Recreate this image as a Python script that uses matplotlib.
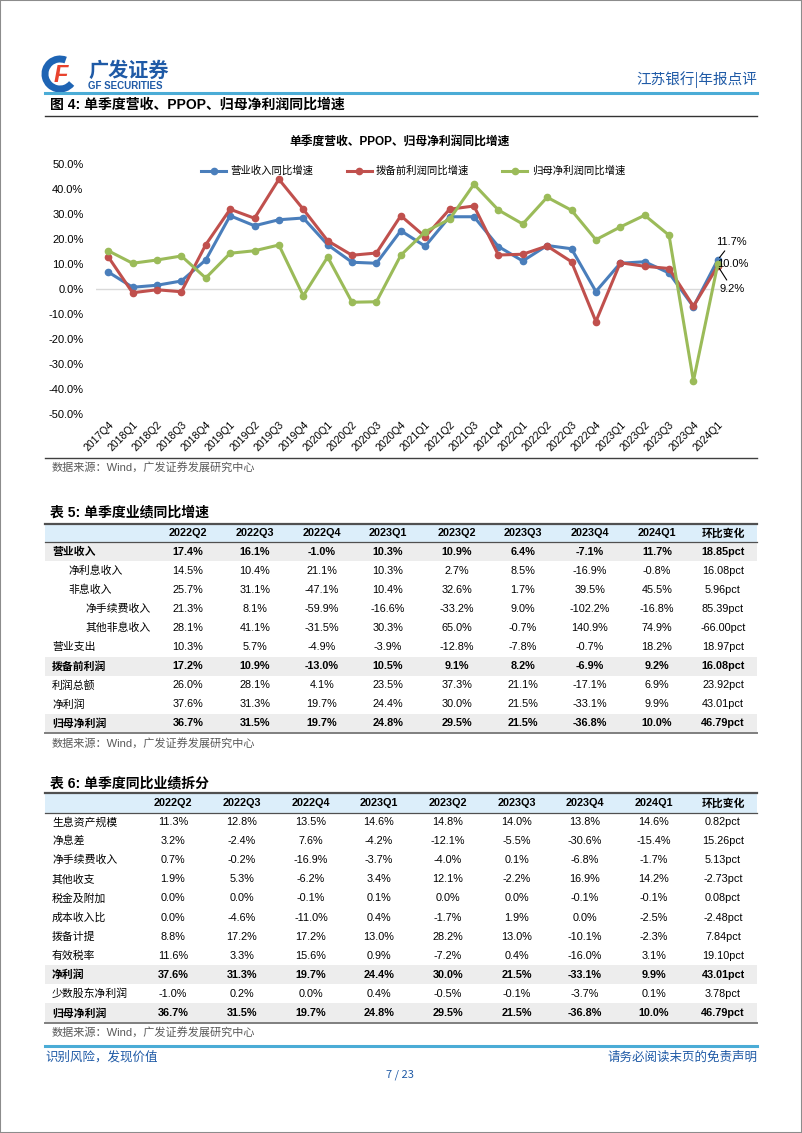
import matplotlib
matplotlib.use("Agg")
import matplotlib.pyplot as plt
from matplotlib.patches import Rectangle, Arc
from matplotlib.lines import Line2D

plt.rcParams['font.family'] = ['Liberation Sans', 'Noto Sans CJK SC', 'DejaVu Sans']

# ---------------- data ----------------
quarters = ['2017Q4', '2018Q1', '2018Q2', '2018Q3', '2018Q4', '2019Q1', '2019Q2', '2019Q3', '2019Q4',
            '2020Q1', '2020Q2', '2020Q3', '2020Q4', '2021Q1', '2021Q2', '2021Q3', '2021Q4',
            '2022Q1', '2022Q2', '2022Q3', '2022Q4', '2023Q1', '2023Q2', '2023Q3', '2023Q4', '2024Q1']
revenue_yoy = [6.8, 0.7, 1.5, 3.2, 11.6, 29.3, 25.3, 27.7, 28.4, 17.7, 10.7, 10.3, 23.3, 17.1,
               28.9, 28.9, 17.0, 11.2, 17.4, 16.1, -1.0, 10.3, 10.9, 6.4, -7.1, 11.7]
ppop_yoy = [12.9, -1.5, -0.3, -1.1, 17.7, 31.9, 28.3, 43.9, 31.9, 19.3, 13.5, 14.4, 29.3, 20.9,
            31.9, 33.2, 13.6, 13.9, 17.2, 10.9, -13.0, 10.5, 9.1, 8.2, -6.9, 9.2]
netprofit_yoy = [15.3, 10.3, 11.6, 13.2, 4.4, 14.3, 15.3, 17.6, -2.7, 12.8, -5.3, -5.1, 13.5, 22.9,
                 27.9, 41.9, 31.6, 26.0, 36.7, 31.5, 19.7, 24.8, 29.5, 21.5, -36.8, 10.0]
series_names = ['营业收入同比增速', '拨备前利润同比增速', '归母净利润同比增速']
yticks = [50, 40, 30, 20, 10, 0, -10, -20, -30, -40, -50]

table_cols = ['2022Q2', '2022Q3', '2022Q4', '2023Q1', '2023Q2', '2023Q3', '2023Q4', '2024Q1', '环比变化']

t5_labels = ['营业收入', '净利息收入', '非息收入', '净手续费收入', '其他非息收入', '营业支出',
             '拨备前利润', '利润总额', '净利润', '归母净利润']
t5_indent = [0, 1, 1, 2, 2, 0, 0, 0, 0, 0]
t5_bold = [True, False, False, False, False, False, True, False, False, True]
t5_values = [
    [17.4, 16.1, -1.0, 10.3, 10.9, 6.4, -7.1, 11.7, 18.85],
    [14.5, 10.4, 21.1, 10.3, 2.7, 8.5, -16.9, -0.8, 16.08],
    [25.7, 31.1, -47.1, 10.4, 32.6, 1.7, 39.5, 45.5, 5.96],
    [21.3, 8.1, -59.9, -16.6, -33.2, 9.0, -102.2, -16.8, 85.39],
    [28.1, 41.1, -31.5, 30.3, 65.0, -0.7, 140.9, 74.9, -66.00],
    [10.3, 5.7, -4.9, -3.9, -12.8, -7.8, -0.7, 18.2, 18.97],
    [17.2, 10.9, -13.0, 10.5, 9.1, 8.2, -6.9, 9.2, 16.08],
    [26.0, 28.1, 4.1, 23.5, 37.3, 21.1, -17.1, 6.9, 23.92],
    [37.6, 31.3, 19.7, 24.4, 30.0, 21.5, -33.1, 9.9, 43.01],
    [36.7, 31.5, 19.7, 24.8, 29.5, 21.5, -36.8, 10.0, 46.79],
]

t6_labels = ['生息资产规模', '净息差', '净手续费收入', '其他收支', '税金及附加', '成本收入比',
             '拨备计提', '有效税率', '净利润', '少数股东净利润', '归母净利润']
t6_bold = [False, False, False, False, False, False, False, False, True, False, True]
t6_values = [
    [11.3, 12.8, 13.5, 14.6, 14.8, 14.0, 13.8, 14.6, 0.82],
    [3.2, -2.4, 7.6, -4.2, -12.1, -5.5, -30.6, -15.4, 15.26],
    [0.7, -0.2, -16.9, -3.7, -4.0, 0.1, -6.8, -1.7, 5.13],
    [1.9, 5.3, -6.2, 3.4, 12.1, -2.2, 16.9, 14.2, -2.73],
    [0.0, 0.0, -0.1, 0.1, 0.0, 0.0, -0.1, -0.1, 0.08],
    [0.0, -4.6, -11.0, 0.4, -1.7, 1.9, 0.0, -2.5, -2.48],
    [8.8, 17.2, 17.2, 13.0, 28.2, 13.0, -10.1, -2.3, 7.84],
    [11.6, 3.3, 15.6, 0.9, -7.2, 0.4, -16.0, 3.1, 19.10],
    [37.6, 31.3, 19.7, 24.4, 30.0, 21.5, -33.1, 9.9, 43.01],
    [-1.0, 0.2, 0.0, 0.4, -0.5, -0.1, -3.7, 0.1, 3.78],
    [36.7, 31.5, 19.7, 24.8, 29.5, 21.5, -36.8, 10.0, 46.79],
]

# ---------------- figure ----------------
W, H = 802, 1133
fig = plt.figure(figsize=(W / 100, H / 100), dpi=100)


def fx(x):
    return x / W


def fy(y):
    return 1 - y / H


def ftext(x, y, s, **kw):
    fig.text(fx(x), fy(y), s, **kw)


def hline(y, x0, x1, color, lw):
    fig.add_artist(Line2D([fx(x0), fx(x1)], [fy(y), fy(y)], color=color, lw=lw))


def rect(x0, y0, x1, y1, color):
    fig.add_artist(Rectangle((fx(x0), fy(y1)), fx(x1) - fx(x0), fy(y0) - fy(y1),
                             facecolor=color, edgecolor='none', zorder=0))


# page border
fig.add_artist(Rectangle((0, 0), 1, 1, fill=False, edgecolor='#8c8c8c', lw=1.5))

# ---- header / logo ----
BLUE_T = '#1F5AA6'
fig.add_artist(Arc((fx(60), fy(74)), 30 / W, 30 / H, theta1=60, theta2=330,
                   color='#1E64B4', lw=5))
ftext(61, 75, 'F', fontsize=17, fontweight='bold', color='#E8432E', ha='center', va='center',
      style='italic')
ftext(88, 70, '广发证券', fontsize=14.5, fontweight='bold', color=BLUE_T, va='center',
      family=['Noto Sans CJK SC'])
ftext(88, 86, 'GF SECURITIES', fontsize=7, fontweight='bold', color=BLUE_T, va='center')
ftext(757, 80, '江苏银行|年报点评', fontsize=10.5, color=BLUE_T, ha='right', va='center',
      family=['Noto Sans CJK SC'])
hline(93, 45, 757, '#4BACD6', 2.2)
ftext(50, 105, '图 4: 单季度营收、PPOP、归母净利润同比增速', fontsize=10, fontweight='bold',
      va='center')
hline(116, 45, 757, '#333333', 1.0)

# ---- chart ----
ftext(400, 142, '单季度营收、PPOP、归母净利润同比增速', fontsize=8.5, fontweight='bold',
      ha='center', va='center')

ax = fig.add_axes([fx(96), fy(414), (730 - 96) / W, (414 - 164) / H])
colors = ['#4A7EBB', '#C0504D', '#9BBB59']
for vals, c, name in zip([revenue_yoy, ppop_yoy, netprofit_yoy], colors, series_names):
    ax.plot(quarters, vals, color=c, lw=2.2, marker='o', markersize=4.5, label=name,
            solid_joinstyle='round')
ax.axhline(0, color='#D9D9D9', lw=1, zorder=0)
ax.set_xlim(-0.5, len(quarters) - 0.5)
ax.set_ylim(-50, 50)
ax.set_yticks(yticks)
ax.set_yticklabels([f'{v:.1f}%' for v in yticks], fontsize=8)
ax.tick_params(axis='y', length=0, pad=9)
ax.tick_params(axis='x', length=0, pad=4)
for lab in ax.get_xticklabels():
    lab.set_rotation(45)
    lab.set_ha('right')
    lab.set_va('top')
    lab.set_rotation_mode('anchor')
    lab.set_fontsize(7.5)
for s in ax.spines.values():
    s.set_visible(False)
leg = ax.legend(loc='upper center', bbox_to_anchor=(0.5, 1.03), ncol=3, frameon=False,
                fontsize=7.5, handlelength=2.4, columnspacing=3.2, handletextpad=0.4,
                prop={'family': ['Noto Sans CJK SC'], 'size': 7.5})

last = len(quarters) - 1
ax.annotate(f'{revenue_yoy[-1]:.1f}%', xy=(last, revenue_yoy[-1]), xytext=(last + 0.57, 18.8),
            fontsize=8, ha='center', va='center', annotation_clip=False,
            arrowprops=dict(arrowstyle='-', color='black', lw=0.8, shrinkA=1, shrinkB=2))
ax.annotate(f'{netprofit_yoy[-1]:.1f}%', xy=(last, netprofit_yoy[-1]), xytext=(last + 0.6, 10.0),
            fontsize=8, ha='center', va='center', annotation_clip=False)
ax.annotate(f'{ppop_yoy[-1]:.1f}%', xy=(last, ppop_yoy[-1]), xytext=(last + 0.6, 0.0),
            fontsize=8, ha='center', va='center', annotation_clip=False,
            arrowprops=dict(arrowstyle='-', color='black', lw=0.8, shrinkA=1, shrinkB=2))

hline(458, 45, 757, '#404040', 1.0)
SRC = '数据来源：Wind，广发证券发展研究中心'
ftext(52, 467, SRC, fontsize=8, color='#595959', va='center')

# ---- tables ----
HEAD_BG = '#DCEEFA'
ROW_BG = '#EDEDED'


def fmt(v, j):
    if j == len(table_cols) - 1:
        return f'{v:.2f}pct'
    return f'{v:.1f}%'


def draw_table(title, title_y, head_top, head_h, row_h, col_x, labels, indents, bolds, values):
    ftext(50, title_y, title, fontsize=10, fontweight='bold', va='center')
    head_bot = head_top + head_h
    rect(45, head_top, 757, head_bot, HEAD_BG)
    hline(head_top, 45, 757, '#505050', 1.6)
    hline(head_bot, 45, 757, '#505050', 0.9)
    for j, c in enumerate(table_cols):
        ftext(col_x[j], head_top + head_h / 2 + 0.5, c, fontsize=7.8, fontweight='bold',
              ha='center', va='center')
    for i, lab in enumerate(labels):
        top = head_bot + i * row_h
        yc = top + row_h / 2
        if bolds[i]:
            rect(45, top, 757, top + row_h, ROW_BG)
        fw = 'bold' if bolds[i] else 'normal'
        ftext(52 + indents[i] * 16.5, yc, lab, fontsize=7.8, fontweight=fw, va='center',
              family=['Noto Sans CJK SC'])
        for j, v in enumerate(values[i]):
            ftext(col_x[j], yc, fmt(v, j), fontsize=7.8, fontweight=fw, ha='center', va='center')
    bottom = head_bot + len(labels) * row_h
    hline(bottom, 45, 757, '#7f7f7f', 1.4)
    return bottom


t5_colx = [188, 255, 322, 388, 457, 523, 590, 657, 723]
b5 = draw_table('表 5: 单季度业绩同比增速', 512, 524, 18, 19.1, t5_colx, t5_labels, t5_indent,
                t5_bold, t5_values)
ftext(52, 743, SRC, fontsize=8, color='#595959', va='center')

t6_colx = [173, 242, 311, 379, 448, 517, 585, 654, 723]
b6 = draw_table('表 6: 单季度同比业绩拆分', 783, 793, 19.5, 19.1, t6_colx, t6_labels,
                [0] * len(t6_labels), t6_bold, t6_values)
ftext(52, 1032, SRC, fontsize=8, color='#595959', va='center')

# ---- footer ----
hline(1046, 45, 757, '#4BACD6', 2.2)
ftext(45, 1057, '识别风险，发现价值', fontsize=9, color=BLUE_T, va='center',
      family=['Noto Sans CJK SC'])
ftext(757, 1057, '请务必阅读末页的免责声明', fontsize=9, color=BLUE_T, ha='right', va='center',
      family=['Noto Sans CJK SC'])
ftext(400, 1075, '7 / 23', fontsize=8, color=BLUE_T, ha='center', va='center',
      family=['Noto Sans CJK SC'])

fig.savefig('out.png', dpi=100)
